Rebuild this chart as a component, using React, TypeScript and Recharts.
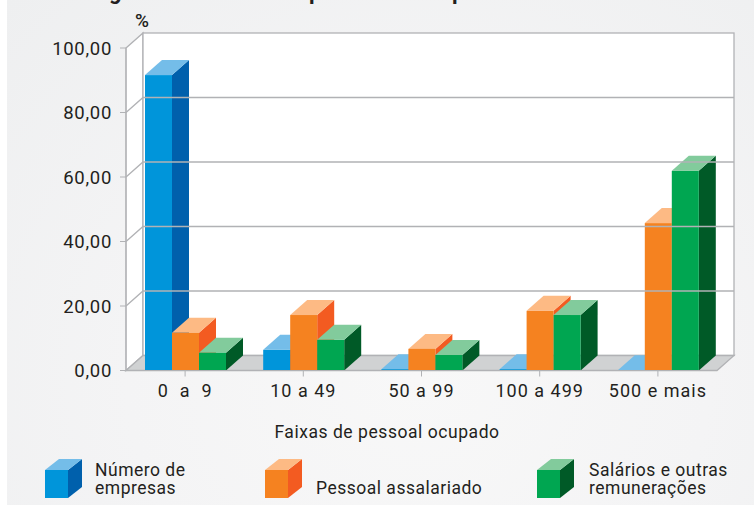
import { Bar, BarChart, Legend, ReferenceArea, ReferenceLine, XAxis, YAxis } from 'recharts'

const categories = ['0\u00a0\u00a0a\u00a0\u00a09', '10 a 49', '50 a 99', '100 a 499', '500 e mais']
const empresas = [91.6, 6.4, 0.4, 0.4, 0.1]
const assalariado = [11.7, 17.2, 6.7, 18.5, 45.7]
const salarios = [5.5, 9.5, 4.8, 17.2, 61.9]
const yTicks = [0, 20, 40, 60, 80, 100]
const gridLines = [20, 40, 60, 80]

const chartData = categories.map((faixa, i) => ({
  faixa,
  empresas: empresas[i],
  assalariado: assalariado[i],
  salarios: salarios[i],
}))

const BLUE = { front: '#0095da', top: '#74bde9', side: '#0060ac' }
const ORANGE = { front: '#f58220', top: '#fdba84', side: '#f35b21' }
const GREEN = { front: '#00a651', top: '#82cb9c', side: '#005a27' }

// depth of the fake 3D box, same for the wall and the bars
const DX = 17
const DY = 15
const LINE = '#b1b2b5'
const INK = '#231f20'
const FONT = 'Roboto, sans-serif'

const legendItems = [
  { key: 'empresas', colors: BLUE, x: 45, textX: 95, lines: ['Número de', 'empresas'] },
  { key: 'assalariado', colors: ORANGE, x: 265, textX: 316, lines: ['', 'Pessoal assalariado'] },
  { key: 'salarios', colors: GREEN, x: 537, textX: 589, lines: ['Salários e outras', 'remunerações'] },
]

function Box3D(props: any, colors: typeof BLUE) {
  const { x, y, width, height } = props
  return (
    <g>
      <polygon
        points={`${x + width},${y} ${x + width + DX},${y - DY} ${x + width + DX},${y + height - DY} ${x + width},${y + height}`}
        fill={colors.side}
      />
      <polygon
        points={`${x},${y} ${x + DX},${y - DY} ${x + width + DX},${y - DY} ${x + width},${y}`}
        fill={colors.top}
      />
      <rect x={x} y={y} width={width} height={height} fill={colors.front} />
    </g>
  )
}

function Wall(props: any) {
  const { x, y, width, height } = props
  const bottom = y + height
  return (
    <g>
      <polygon
        points={`${x},${y} ${x + DX},${y - DY} ${x + DX},${bottom - DY} ${x},${bottom}`}
        fill="#ffffff"
        stroke={LINE}
        strokeWidth={1.3}
      />
      <rect x={x + DX} y={y - DY} width={width} height={height} fill="#ffffff" stroke={LINE} strokeWidth={1.3} />
      <polygon
        points={`${x},${bottom} ${x + DX},${bottom - DY} ${x + width + DX},${bottom - DY} ${x + width},${bottom}`}
        fill="#d0d2d3"
        stroke={LINE}
        strokeWidth={1.3}
      />
    </g>
  )
}

function GridLine(props: any) {
  const { x1, x2, y1 } = props
  return (
    <polyline
      points={`${x1},${y1} ${x1 + DX},${y1 - DY} ${x2 + DX},${y1 - DY}`}
      fill="none"
      stroke={LINE}
      strokeWidth={1.3}
    />
  )
}

function CubeLegend() {
  return (
    <svg width={754} height={46} style={{ display: 'block' }}>
      {legendItems.map((item) => {
        const x = item.x
        return (
          <g key={item.key}>
            <polygon points={`${x + 23},11 ${x + 37},0 ${x + 37},28 ${x + 23},39`} fill={item.colors.side} />
            <polygon points={`${x},11 ${x + 14},0 ${x + 37},0 ${x + 23},11`} fill={item.colors.top} />
            <rect x={x} y={11} width={23} height={28} fill={item.colors.front} />
            {item.lines.map((line, i) => (
              <text key={i} x={item.textX} y={17 + i * 18} fontSize={17.5} letterSpacing={0.5} fontFamily={FONT} fill={INK}>
                {line}
              </text>
            ))}
          </g>
        )
      })}
    </svg>
  )
}

export default function App() {
  return (
    <div style={{ position: 'absolute', left: 0, top: 0, width: 754, height: 505, background: '#fff', overflow: 'hidden' }}>
      <div
        style={{
          position: 'absolute',
          left: 7,
          top: 0,
          width: 747,
          height: 505,
          background: 'radial-gradient(ellipse at 55% 75%, #f8f8f8 0%, #f4f4f5 50%, #eeeff0 100%)',
        }}
      />
      <div style={{ position: 'absolute', left: 0, top: 0 }}>
        <BarChart
          width={754}
          height={505}
          data={chartData}
          margin={{ top: 48, right: 37, bottom: 0, left: 0 }}
          barSize={27}
          barGap={0}
          barCategoryGap={0}
        >
          <ReferenceArea y1={0} y2={100} ifOverflow="visible" shape={Wall} />
          {gridLines.map((v) => (
            <ReferenceLine key={v} y={v} ifOverflow="visible" shape={GridLine} />
          ))}
          <XAxis
            dataKey="faixa"
            height={88.5}
            stroke={LINE}
            tickSize={6}
            tickMargin={8}
            interval={0}
            tick={{ fontSize: 18, fontFamily: FONT, fill: INK, letterSpacing: 1 }}
          />
          <YAxis
            width={126}
            domain={[0, 100]}
            ticks={yTicks}
            stroke={LINE}
            tickSize={6}
            tickMargin={8}
            tickFormatter={(v: number) => v.toFixed(2).replace('.', ',')}
            tick={{ fontSize: 18.5, fontFamily: FONT, fill: INK, letterSpacing: 0.7 }}
          />
          <Bar dataKey="empresas" isAnimationActive={false} shape={(p: any) => Box3D(p, BLUE)} />
          <Bar dataKey="assalariado" isAnimationActive={false} shape={(p: any) => Box3D(p, ORANGE)} />
          <Bar dataKey="salarios" isAnimationActive={false} shape={(p: any) => Box3D(p, GREEN)} />
          <Legend
            content={<CubeLegend />}
            layout="horizontal"
            verticalAlign="bottom"
            wrapperStyle={{ position: 'absolute', left: 0, top: 459, width: 754, height: 46 }}
          />
        </BarChart>
      </div>
      <svg width={754} height={505} style={{ position: 'absolute', left: 0, top: 0, pointerEvents: 'none' }}>
        {/* the title is cropped in the source, only these descenders show */}
        <g fontFamily={FONT} fontWeight={700} fontSize={22} fill={INK}>
          <text x={109} y={-1}>g</text>
          <text x={309} y={-1}>p</text>
          <text x={452} y={-1}>p</text>
        </g>
        <text x={135} y={27} fontFamily={FONT} fontWeight={500} fontSize={19} fill={INK}>%</text>
        <text x={387} y={438} textAnchor="middle" fontFamily={FONT} fontSize={17.5} letterSpacing={0.55} fill={INK}>
          Faixas de pessoal ocupado
        </text>
      </svg>
    </div>
  )
}
